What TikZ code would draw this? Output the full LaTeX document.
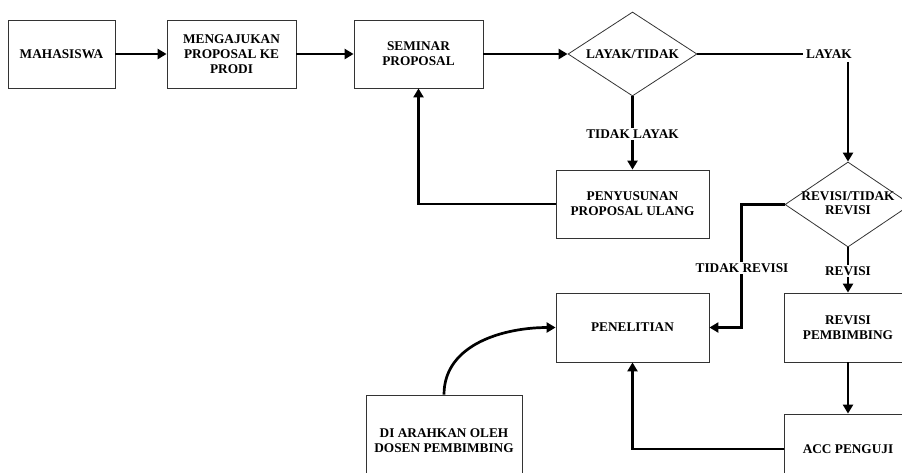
\documentclass[tikz,border=0pt]{standalone}
\usepackage{fontspec}
\setmainfont{Liberation Serif}
\usetikzlibrary{shapes.geometric,arrows.meta}
\tikzset{
	kotak/.style={draw=black!80, line width=0.8pt, rectangle, align=center, inner sep=2pt},
	belah/.style={draw=black!80, line width=0.8pt, diamond, inner sep=0pt},
	alur/.style={line width=2.7pt},
	panah/.style={alur, -{Triangle[length=9pt,width=10pt]}},
	ket/.style={fill=white, inner sep=1.5pt},
}
\begin{document}
\begin{tikzpicture}[x=1pt, y=1pt, font=\fontsize{13.3}{14.7}\selectfont\bfseries]
	\useasboundingbox (0,0) rectangle (902,-472);
	\clip (0,0) rectangle (902,-472);
	\node[kotak, minimum width=107pt, minimum height=68pt] (mhs) at (61.5,-54) {MAHASISWA};
	\node[kotak, minimum width=129pt, minimum height=68pt] (ajukan) at (231.5,-54) {MENGAJUKAN\\PROPOSAL KE\\PRODI};
	\node[kotak, minimum width=129pt, minimum height=68pt] (seminar) at (418.5,-54) {SEMINAR\\PROPOSAL};
	\node[belah, minimum width=129pt, minimum height=84pt] (layak) at (632.5,-54) {\makebox[0pt]{LAYAK/TIDAK}};
	\node[kotak, minimum width=153pt, minimum height=68pt] (susun) at (632.5,-204) {PENYUSUNAN\\PROPOSAL ULANG};
	\node[belah, minimum width=126pt, minimum height=85pt] (revisi) at (848,-204.5) {\makebox[0pt]{\begin{tabular}{@{}c@{}}REVISI/TIDAK\\REVISI\end{tabular}}};
	\node[kotak, minimum width=153pt, minimum height=69pt] (teliti) at (632.5,-327.5) {PENELITIAN};
	\node[kotak, minimum width=128pt, minimum height=69pt] (revpemb) at (848,-327.5) {REVISI\\PEMBIMBING};
	\node[kotak, minimum width=128pt, minimum height=70pt] (acc) at (848,-449) {ACC PENGUJI};
	\node[kotak, minimum width=156pt, minimum height=92pt] (arahkan) at (444,-441) {DI ARAHKAN OLEH\\DOSEN PEMBIMBING};
	\node (lblayak) at (829,-54) {LAYAK};
	\draw[panah] (mhs) -- (ajukan);
	\draw[panah] (ajukan) -- (seminar);
	\draw[panah] (seminar) -- (layak);
	\draw[alur] (layak.east) -- (lblayak.west);
	\draw[panah] (revisi.north |- lblayak.south) -- (revisi.north);
	\draw[panah] (layak.south) -- (susun.north);
	\node[ket] (lbtidak) at (632.5,-134) {TIDAK LAYAK};
	\draw[panah] (susun.west) -| (seminar.south);
	\draw[panah] (revisi.west) -- ++(-43,0) |- (teliti.east);
	\node[ket] (lbtdkrev) at (742,-268) {TIDAK REVISI};
	\draw[panah] (revisi.south) -- (revpemb.north);
	\node[ket] (lbrev) at (848,-271) {REVISI};
	\draw[panah] (revpemb) -- (acc);
	\draw[panah] (acc.west) -| (teliti.south);
	\draw[panah] (arahkan.north) to[out=90, in=180] (teliti.west);
\end{tikzpicture}
\end{document}
